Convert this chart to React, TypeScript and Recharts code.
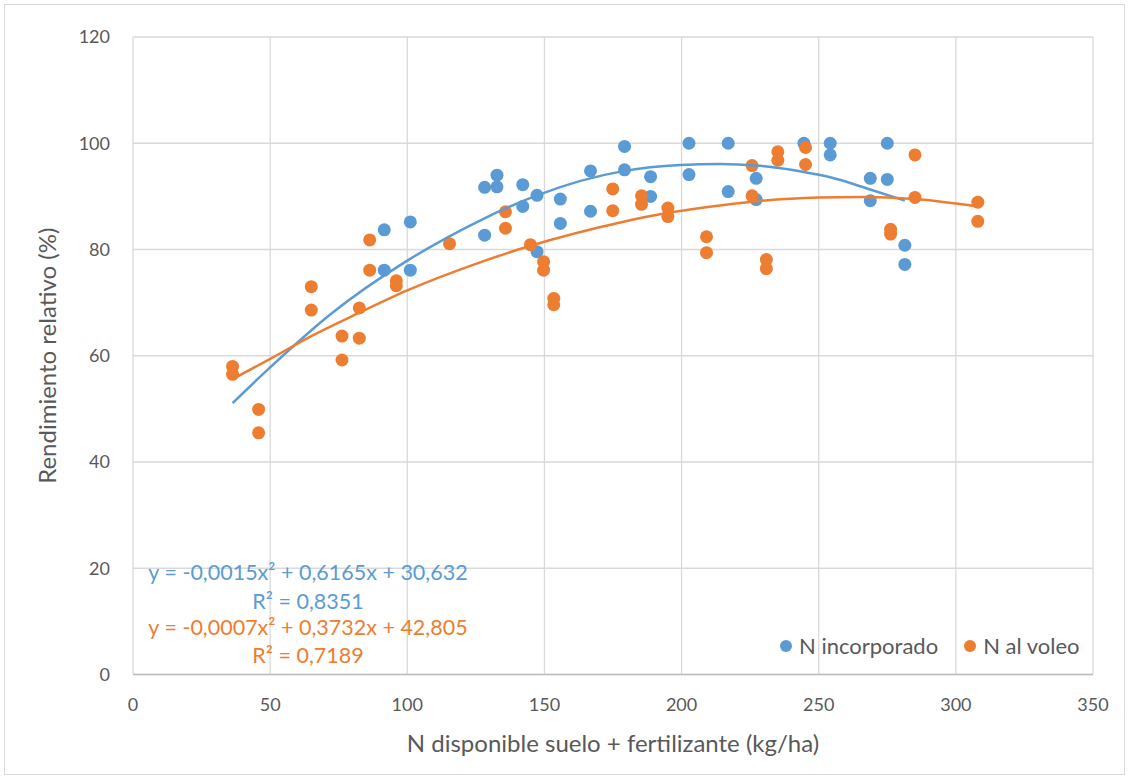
import {CartesianGrid, Label, Legend, Scatter, ScatterChart, XAxis, YAxis} from 'recharts';

// N incorporado (blue points)
const incorporadoX = [91.6, 91.6, 101.1, 101.1, 128.2, 128.2, 132.7, 132.7, 142.1, 142.1, 147.3, 147.3, 155.8, 155.8, 166.8, 166.8, 179.2, 179.2, 188.7, 188.7, 202.7, 202.7, 217, 217, 227.2, 227.2, 244.6, 254.2, 254.2, 268.8, 268.8, 275, 275, 281.4, 281.4]
const incorporadoY = [83.7, 76.1, 85.2, 76.1, 91.7, 82.7, 94.0, 91.8, 92.2, 88.1, 90.2, 79.6, 89.5, 84.9, 94.8, 87.2, 99.4, 95.0, 93.7, 90.0, 100, 94.1, 100, 90.9, 93.4, 89.4, 100, 100, 97.8, 93.4, 89.2, 100, 93.2, 80.8, 77.2]

// N al voleo (orange points)
const voleoX = [36.3, 36.3, 45.8, 45.8, 65, 65, 76.2, 76.2, 82.5, 82.5, 86.3, 86.3, 96, 96, 115.4, 135.8, 135.8, 144.9, 149.7, 149.7, 153.4, 153.4, 174.9, 174.9, 185.4, 185.4, 195, 195, 209.1, 209.1, 225.7, 225.7, 230.9, 230.9, 235.1, 235.1, 245.2, 245.2, 276.2, 276.2, 285.1, 285.1, 308, 308]
const voleoY = [58.0, 56.5, 49.9, 45.5, 73.0, 68.6, 63.7, 59.2, 69.0, 63.3, 81.8, 76.1, 74.1, 73.2, 81.1, 87.1, 84.0, 80.9, 77.7, 76.1, 70.8, 69.6, 91.4, 87.3, 90.1, 88.5, 87.8, 86.2, 82.4, 79.4, 95.8, 90.1, 78.1, 76.4, 98.4, 96.8, 99.2, 96.0, 83.8, 82.9, 97.8, 89.8, 88.9, 85.3]

// trend lines
const incorporadoTrendX = [36.3, 50, 72, 100, 126.7, 147.3, 179.2, 199.6, 214, 227.2, 244.6, 254.2, 268.8, 281.4]
const incorporadoTrendY = [51.1, 57.8, 67.8, 77.9, 85.5, 90.2, 94.8, 95.9, 96.1, 95.8, 94.6, 93.6, 91.3, 89.2]
const voleoTrendX = [36.3, 50, 65, 82.5, 100, 125, 144.9, 177.7, 195, 214, 225.7, 250, 266, 285, 308]
const voleoTrendY = [55.6, 59.4, 63.7, 68.1, 72.3, 77.3, 80.7, 85.1, 86.9, 88.3, 89.0, 89.8, 89.9, 89.5, 88.1]

const xTicks = [0, 50, 100, 150, 200, 250, 300, 350]
const yTicks = [0, 20, 40, 60, 80, 100, 120]

const blueEq = 'y = -0,0015x² + 0,6165x + 30,632'
const blueR2 = 'R² = 0,8351'
const orangeEq = 'y = -0,0007x² + 0,3732x + 42,805'
const orangeR2 = 'R² = 0,7189'

const BLUE = '#5B9BD5'
const ORANGE = '#ED7D31'
const GREY = '#595959'

const toPoints = (xs: number[], ys: number[]) => xs.map((x, i) => ({x, y: ys[i]}))

const incorporado = toPoints(incorporadoX, incorporadoY)
const voleo = toPoints(voleoX, voleoY)
const incorporadoTrend = toPoints(incorporadoTrendX, incorporadoTrendY)
const voleoTrend = toPoints(voleoTrendX, voleoTrendY)

const dot = (color: string) => (props: any) => (
    <circle cx={props.cx} cy={props.cy} r={6.5} fill={color}/>
)

const noDot = () => <g/>

const legendItems = [
    {name: 'N incorporado', color: BLUE},
    {name: 'N al voleo', color: ORANGE},
]

const LegendContent = () => (
    <div style={{display: 'flex', fontSize: 22, color: GREY}}>
        {legendItems.map(item => (
            <div key={item.name} style={{display: 'flex', alignItems: 'center', marginRight: 26}}>
                <span style={{width: 12, height: 12, borderRadius: 6, background: item.color, marginRight: 7}}/>
                <span>{item.name}</span>
            </div>
        ))}
    </div>
)

const eqLine = (text: string, color: string, center: number) => (
    <div style={{
        position: 'absolute', left: 108, width: 400, top: center - 14, height: 28,
        lineHeight: '28px', textAlign: 'center', fontSize: 21.5, color,
    }}>{text}</div>
)

const App = () => {
    return (
        <div style={{position: 'relative', width: 1129, height: 778, fontFamily: 'Lato, sans-serif', background: '#fff'}}>
            <style>{'body{margin:0}'}</style>
            <div style={{position: 'absolute', left: 4, top: 4, width: 1119, height: 769, border: '1px solid #D9D9D9'}}/>
            <ScatterChart width={1129} height={778} margin={{top: 37, right: 36, left: 4, bottom: 18.5}}>
                <CartesianGrid stroke="#D9D9D9" strokeWidth={1.3}/>
                <XAxis type="number" dataKey="x" domain={[0, 350]} ticks={xTicks} height={85}
                       tickLine={false} tickMargin={18} axisLine={{stroke: '#BFBFBF', strokeWidth: 1.3}}
                       tick={{fill: GREY, fontSize: 18}}>
                    <Label value="N disponible suelo + fertilizante (kg/ha)" position="insideBottom" offset={8}
                           style={{fill: GREY, fontSize: 24}}/>
                </XAxis>
                <YAxis type="number" dataKey="y" domain={[0, 120]} ticks={yTicks} width={129}
                       tickLine={false} tickMargin={17} axisLine={false}
                       tick={{fill: GREY, fontSize: 18}}>
                    <Label value="Rendimiento relativo (%)" angle={-90} position="insideLeft" offset={43}
                           style={{fill: GREY, fontSize: 24, textAnchor: 'middle'}}/>
                </YAxis>
                <Legend layout="vertical" align="center" verticalAlign="middle"
                        wrapperStyle={{left: 780, top: 632, width: 340, height: 28}}
                        content={<LegendContent/>}/>
                <Scatter name="N incorporado" data={incorporado} fill={BLUE} shape={dot(BLUE)}
                         isAnimationActive={false}/>
                <Scatter name="N al voleo" data={voleo} fill={ORANGE} shape={dot(ORANGE)}
                         isAnimationActive={false}/>
                <Scatter name="trend incorporado" data={incorporadoTrend} line={{stroke: BLUE, strokeWidth: 2.5}}
                         lineJointType="monotoneX" shape={noDot} legendType="none" isAnimationActive={false}/>
                <Scatter name="trend voleo" data={voleoTrend} line={{stroke: ORANGE, strokeWidth: 2.5}}
                         lineJointType="monotoneX" shape={noDot} legendType="none" isAnimationActive={false}/>
            </ScatterChart>
            {eqLine(blueEq, BLUE, 572)}
            {eqLine(blueR2, BLUE, 601)}
            {eqLine(orangeEq, ORANGE, 627)}
            {eqLine(orangeR2, ORANGE, 655)}
        </div>
    )
}

export default App
